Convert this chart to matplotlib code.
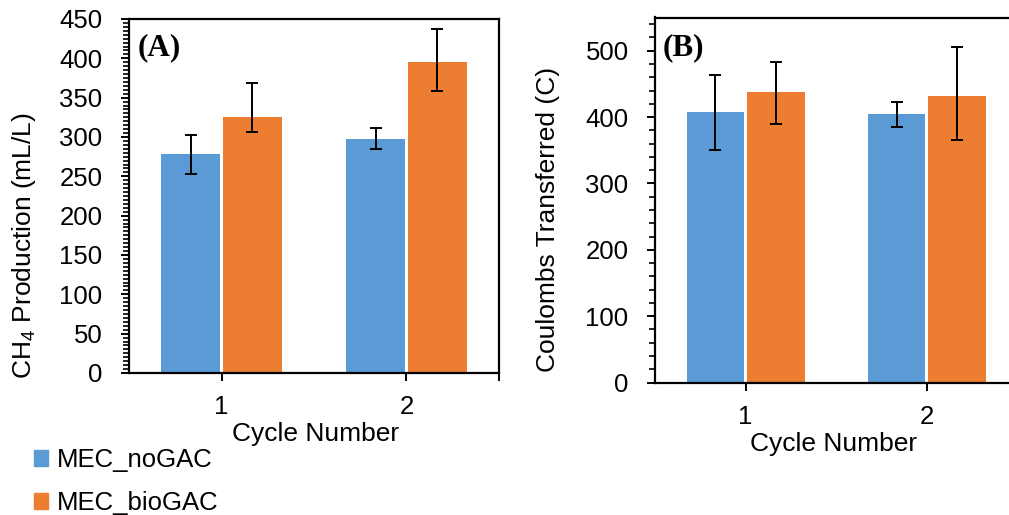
import matplotlib.pyplot as plt
import matplotlib as mpl
from matplotlib.patches import Patch
from matplotlib.ticker import MultipleLocator, FixedLocator
import numpy as np

mpl.rc("font", family="Liberation Sans")
mpl.rcParams["mathtext.default"] = "regular"

cycles = ["1", "2"]
series = ["MEC_noGAC", "MEC_bioGAC"]
colors = ["#5B9BD5", "#ED7D31"]

# (A) CH4 production, mL/L
ch4_nogac = [278, 298]
ch4_nogac_minus = [25, 13]
ch4_nogac_plus = [25, 13]
ch4_biogac = [325, 395]
ch4_biogac_minus = [19, 37]
ch4_biogac_plus = [44, 42]

# (B) coulombs transferred, C
coul_nogac = [407, 404]
coul_nogac_minus = [57, 19]
coul_nogac_plus = [57, 19]
coul_biogac = [438, 432]
coul_biogac_minus = [48, 66]
coul_biogac_plus = [45, 74]

W, H = 1009, 515
fig = plt.figure(figsize=(W / 100, H / 100), dpi=100)


def px_axes(left, right, top, bottom):
    return fig.add_axes([left / W, 1 - bottom / H, (right - left) / W, (bottom - top) / H])


ax_a = px_axes(129, 499, 19, 373)
ax_b = px_axes(655, 1017.5, 17.5, 382.5)

x = np.arange(1, len(cycles) + 1)
offset, width = 0.1665, 0.317


def draw(ax, vals, ylim, major, minor):
    for (v, lo, hi), color, sign in zip(vals, colors, (-1, 1)):
        ax.bar(x + sign * offset, v, width, color=color, zorder=1)
        ax.errorbar(x + sign * offset, v, yerr=[lo, hi], fmt="none", ecolor="black",
                    elinewidth=1.4, capsize=4, capthick=1.4, zorder=3)
    ax.set_xlim(0.5, 2.5)
    ax.set_ylim(*ylim)
    ax.set_xticks(x)
    ax.set_xticklabels(cycles)
    ax.yaxis.set_major_locator(MultipleLocator(major))
    ax.yaxis.set_minor_locator(MultipleLocator(minor))
    for s in ax.spines.values():
        s.set_linewidth(1.6)
    ax.tick_params(axis="y", which="major", direction="out", length=6, width=1.4,
                   labelsize=18.5, pad=13)
    ax.tick_params(axis="y", which="minor", direction="out", length=4, width=1.2)
    ax.tick_params(axis="x", which="major", direction="out", length=6, width=1.4,
                   labelsize=18.5, pad=10)


draw(ax_a, [(ch4_nogac, ch4_nogac_minus, ch4_nogac_plus),
            (ch4_biogac, ch4_biogac_minus, ch4_biogac_plus)], (0, 450), 50, 5)
ax_a.xaxis.set_minor_locator(FixedLocator([2.5]))
ax_a.tick_params(axis="x", which="minor", direction="out", length=6, width=1.4)

draw(ax_b, [(coul_nogac, coul_nogac_minus, coul_nogac_plus),
            (coul_biogac, coul_biogac_minus, coul_biogac_plus)], (0, 550), 100, 20)

ax_a.text(0.022, 0.918, "(A)", transform=ax_a.transAxes, fontsize=22.5, fontweight="bold",
          family="Liberation Serif", va="center", ha="left")
ax_b.text(0.022, 0.918, "(B)", transform=ax_b.transAxes, fontsize=22.5, fontweight="bold",
          family="Liberation Serif", va="center", ha="left")

fig.text(24 / W, 1 - 246 / H, "CH$_4$ Production (mL/L)", rotation=90,
         ha="center", va="center", fontsize=19)
fig.text(547.5 / W, 1 - 219 / H, "Coulombs Transferred (C)", rotation=90,
         ha="center", va="center", fontsize=19)
fig.text(315.5 / W, 1 - 441 / H, "Cycle Number", ha="center", va="baseline", fontsize=19)
fig.text(834 / W, 1 - 451 / H, "Cycle Number", ha="center", va="baseline", fontsize=19)

handles = [Patch(color=c, label=s) for c, s in zip(colors, series)]
fig.legend(handles=handles, loc="upper left", bbox_to_anchor=(34 / W, 1 - 448 / H),
           frameon=False, fontsize=18.5, handlelength=0.55, handleheight=0.55,
           handletextpad=0.35, labelspacing=0.75, borderpad=0, borderaxespad=0)

fig.savefig("out.png", dpi=100)
